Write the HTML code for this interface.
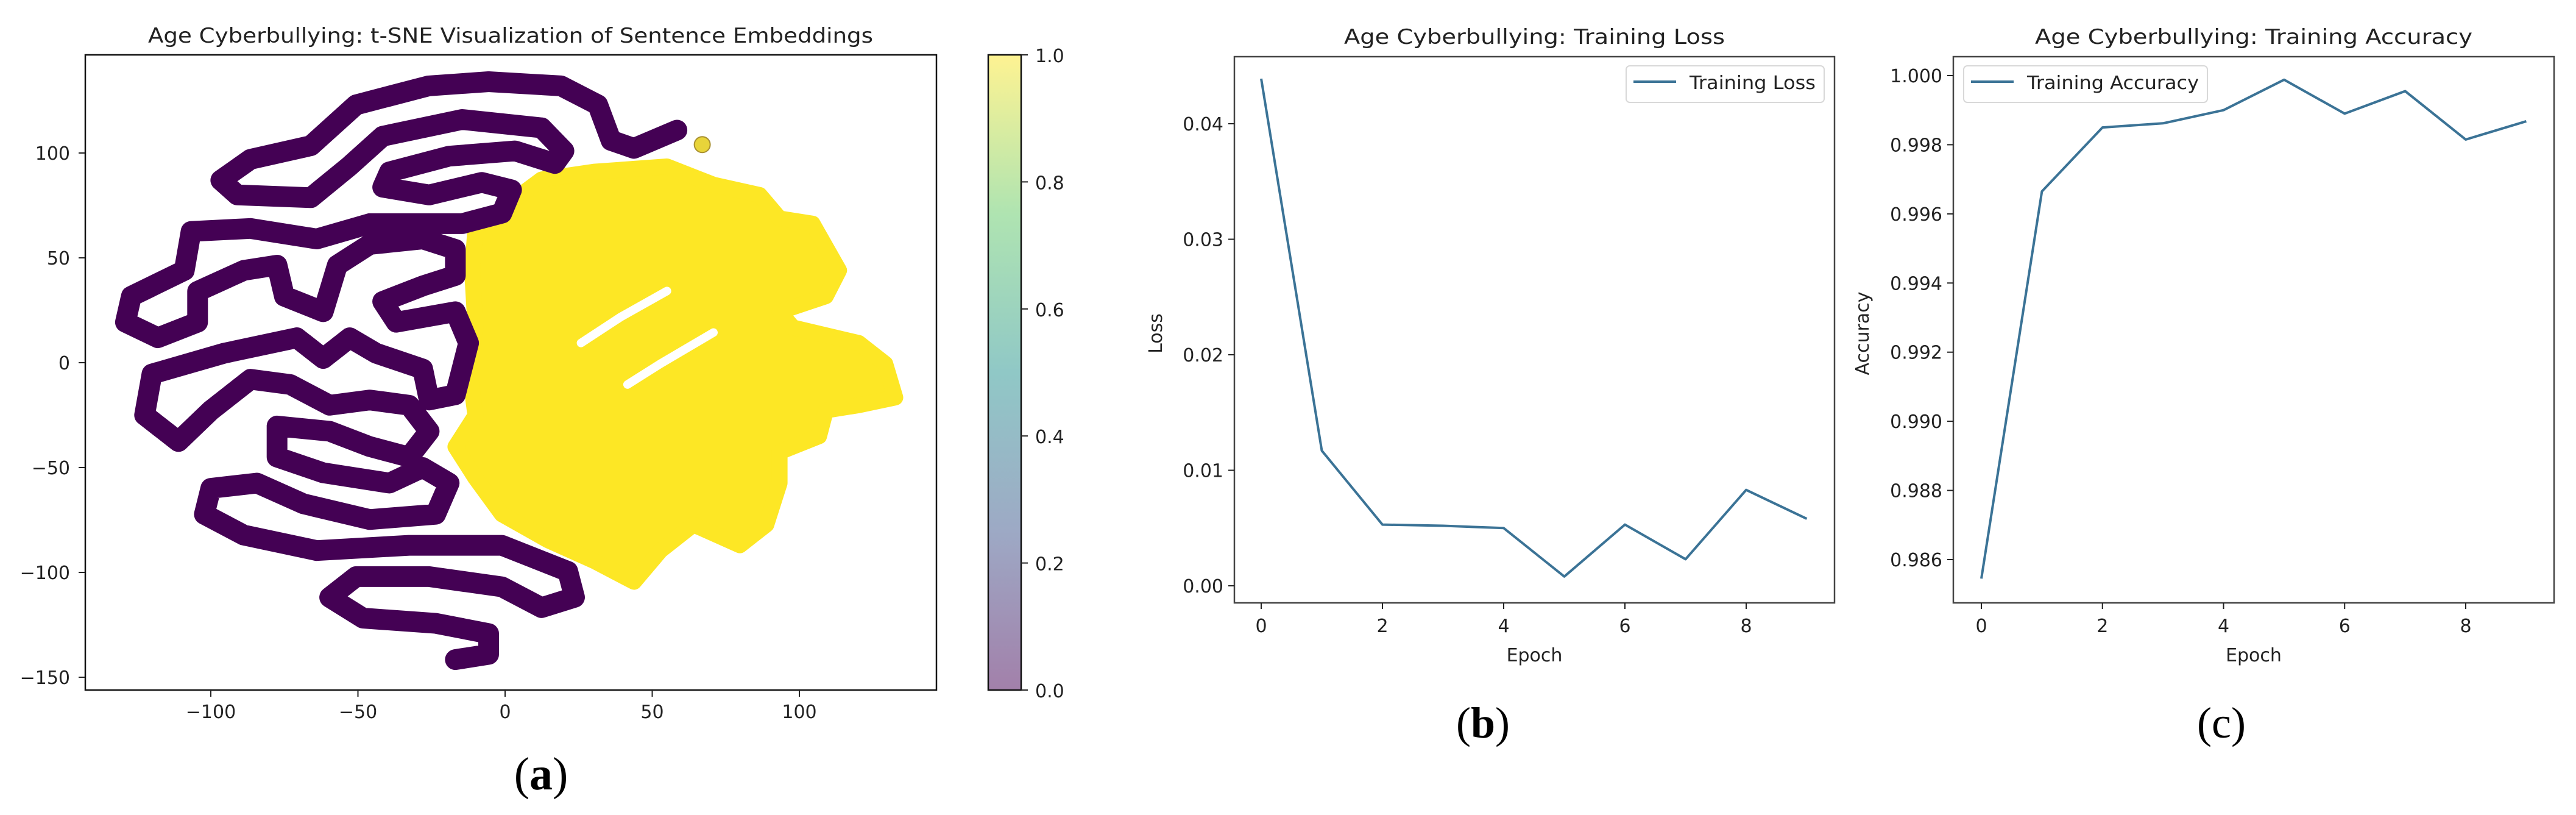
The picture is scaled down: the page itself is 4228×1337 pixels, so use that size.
<!DOCTYPE html>
<html><head><meta charset="utf-8"><style>
html,body{margin:0;padding:0;background:#fff;}
svg{display:block;}
text{font-family:"DejaVu Sans","Liberation Sans",sans-serif;fill:#222;}
text.cap{font-family:"Liberation Serif",serif;fill:#000;}
</style></head><body>
<svg id="fig" width="4228" height="1337" viewBox="0 0 4228 1337" xmlns="http://www.w3.org/2000/svg">
<defs>
<linearGradient id="vir" x1="0" y1="1" x2="0" y2="0">
<stop offset="0" stop-color="#a280aa"/><stop offset="0.25" stop-color="#9da9c5"/>
<stop offset="0.5" stop-color="#90c8c6"/><stop offset="0.75" stop-color="#afe4b1"/>
<stop offset="1" stop-color="#fef392"/></linearGradient>
</defs>
<g id="pa"></g>
<g id="pb"></g>
<g id="pc"></g>
</svg>
<script>
// ---- t-SNE data (data coordinates) ----
const snakeX=[58.4,43.8,36,31.5,19,-5.6,-26,-50.6,-66,-86.5,-96.6,-91,-66,-53,-41.6,-14.6,12.4,20,16.9,3.4,-19,-39.3,-41.6,-25.8,-7.9,2.2,-1.1,-14.6,-46,-64,-86.5,-106.7,-109,-127,-129,-118,-104.5,-104.5,-88.8,-77.5,-75,-61.8,-57,-46,-28,-16.9,-16.9,-28,-41.6,-37,-16.9,-12.4,-16.9,-25.8,-28,-43.8,-52.8,-61.8,-70.8,-95.5,-120,-122.5,-111,-100,-86.5,-73,-59.6,-46,-32.6,-25.8,-32.6,-46,-59.6,-77.5,-77.5,-61.8,-39.3,-28,-19,-23.6,-46,-68.5,-84.3,-100,-102.2,-88.8,-64,-32.6,-1.1,21.3,23.6,12.4,-1.1,-25.8,-50.6,-59.6,-48.3,-23.6,-5.6,-5.6,-16.9];
const snakeY=[110.9,102.2,106,123,132,134,132,123,103.5,97,87,80,78.7,93.6,108,116,112,101,95,101,98.5,91,83.7,80,86,82.4,71.3,66.3,66.3,59,64,62.6,44,31.7,19.3,11.9,19.3,34,44,46.5,31.7,24.3,46.5,56.4,59,54,41.6,36.6,29.2,19.3,24.3,9.4,-15.3,-17.8,-3,4.5,11.9,2,11.9,4.5,-5.4,-25,-37.6,-22.8,-7.9,-10.4,-20.3,-17.8,-20.3,-32.7,-45,-40,-32.7,-30.2,-45,-52.5,-57.4,-50,-57.4,-72.3,-74.8,-67.3,-57.4,-59.9,-72.3,-82.2,-89.6,-87.1,-87.1,-99.5,-111.9,-116.8,-106.9,-102,-102,-111.9,-121.8,-124.3,-129.2,-139.1,-141.6];
const blobX=[-10.1,12.4,30.3,55,70.8,86.5,93.3,104.5,113.5,109,93.3,97.8,120.2,129.2,132.6,120.2,109,106.7,93.3,93.3,88.8,79.8,64,52.8,43.8,30.3,14.6,-1.1,-10.1,-16.9,-10.1,-12.4,-10.1,-11.2];
const blobY=[63.9,87.4,91.1,93.6,84.9,80,68.8,66.3,44,31.7,24.3,16.8,9.4,-0.5,-16.6,-20.3,-22.8,-35.1,-42.6,-57.4,-77.2,-87.1,-77.2,-89.6,-104.5,-94.6,-84.7,-72.3,-55,-40.1,-25.2,-0.5,16.8,44];
const gap1X=[55,39.3,25.8], gap1Y=[34.2,21.8,9.4];
const gap2X=[70.8,52.8,41.6], gap2Y=[14.4,-0.5,-10.4];
const tsneXTicks=[-100,-50,0,50,100];
const tsneYTicks=[-150,-100,-50,0,50,100];
const cbTicks=[0.0,0.2,0.4,0.6,0.8,1.0];
// ---- training curves ----
const epochs=[0,1,2,3,4,5,6,7,8,9];
const lossVals=[0.0439,0.0117,0.0053,0.0052,0.0050,0.0008,0.0053,0.0023,0.0083,0.0058];
const accVals=[0.98545,0.99665,0.9985,0.99862,0.9990,0.99988,0.9989,0.99955,0.99815,0.99868];
const epochTicks=[0,2,4,6,8];
const lossTicks=[0.00,0.01,0.02,0.03,0.04];
const accTicks=[0.986,0.988,0.990,0.992,0.994,0.996,0.998,1.000];

const NS="http://www.w3.org/2000/svg";
function mk(parent,tag,attrs,txt){const e=document.createElementNS(NS,tag);for(const k in attrs)e.setAttribute(k,attrs[k]);if(txt!==undefined)e.textContent=txt;parent.appendChild(e);return e;}
function lin(d0,d1,r0,r1){return v=>r0+(v-d0)*(r1-r0)/(d1-d0);}

// ---- Panel A ----
const pa=document.getElementById('pa');
const ax=lin(0,100,829,1312), ay=lin(0,100,595,251);
let t=mk(pa,'text',{x:838,y:70,'text-anchor':'middle','font-size':34,textLength:1190,lengthAdjust:'spacingAndGlyphs'},'Age Cyberbullying: t-SNE Visualization of Sentence Embeddings');


function pts(xs,ys,fx,fy){return xs.map((x,i)=>fx(x).toFixed(1)+','+fy(ys[i]).toFixed(1)).join(' ');}
let bl=mk(pa,'polygon',{points:pts(blobX,blobY,ax,ay),fill:'#fde725',stroke:'#fde725','stroke-width':26,'stroke-linejoin':'round'});


[[gap1X,gap1Y],[gap2X,gap2Y]].forEach(g=>{const p=mk(pa,'polyline',{points:pts(g[0],g[1],ax,ay),fill:'none',stroke:'#fff','stroke-width':14,'stroke-linecap':'round','stroke-linejoin':'round'});

});
let dot=mk(pa,'circle',{cx:ax(67),cy:ay(104),r:13,fill:'#e8d43a',stroke:'#a89030','stroke-width':2});


let sn=mk(pa,'polyline',{points:pts(snakeX,snakeY,ax,ay),fill:'none',stroke:'#440154','stroke-width':34,'stroke-linecap':'round','stroke-linejoin':'round'});


let fr=mk(pa,'rect',{x:140,y:90,width:1397,height:1042,fill:'none',stroke:'#111','stroke-width':2.5});


tsneXTicks.forEach(v=>{const x=ax(v);mk(pa,'line',{x1:x,y1:1132,x2:x,y2:1143,stroke:'#222','stroke-width':2});
const l=mk(pa,'text',{x:x,y:1178,'text-anchor':'middle','font-size':30},v<0?'\u2212'+(-v):String(v));

});
tsneYTicks.forEach(v=>{const y=ay(v);mk(pa,'line',{x1:129,y1:y,x2:140,y2:y,stroke:'#222','stroke-width':2});
const l=mk(pa,'text',{x:115,y:y+11,'text-anchor':'end','font-size':30},v<0?'\u2212'+(-v):String(v));

});
let cb=mk(pa,'rect',{x:1622,y:90,width:54,height:1042,fill:'url(#vir)',stroke:'#111','stroke-width':2.5});


const cy=lin(0,1,1132,90);
cbTicks.forEach(v=>{const y=cy(v);mk(pa,'line',{x1:1676,y1:y,x2:1687,y2:y,stroke:'#222','stroke-width':2});
const l=mk(pa,'text',{x:1699,y:y+12,'font-size':30},v.toFixed(1));

});
let ca=mk(pa,'text',{x:888,y:1295,'text-anchor':'middle','font-size':76,'class':'cap'});
ca.innerHTML='(<tspan font-weight="bold">a</tspan>)';



// ---- line panels ----
function linePanel(g,o){
  const fx=lin(0,8,o.x0,o.x8), fy=lin(o.yv0,o.yv1,o.yp0,o.yp1);
  let t=mk(g,'text',{x:(o.L+o.R)/2,y:72,'text-anchor':'middle','font-size':34,textLength:o.tl,lengthAdjust:'spacingAndGlyphs'},o.title);
  
  
  let f=mk(g,'rect',{x:o.L,y:93,width:o.R-o.L,height:896,fill:'none',stroke:'#444','stroke-width':2.5});
  
  
  epochTicks.forEach(v=>{const x=fx(v);mk(g,'line',{x1:x,y1:989,x2:x,y2:999,stroke:'#222','stroke-width':2});
  const l=mk(g,'text',{x:x,y:1037,'text-anchor':'middle','font-size':30},String(v));
  
  });
  o.ticks.forEach(v=>{const y=fy(v);mk(g,'line',{x1:o.L-10,y1:y,x2:o.L,y2:y,stroke:'#222','stroke-width':2});
  const l=mk(g,'text',{x:o.L-18,y:y+11,'text-anchor':'end','font-size':30},v.toFixed(o.dp));
  
  });
  let xl=mk(g,'text',{x:(o.L+o.R)/2,y:1085,'text-anchor':'middle','font-size':30},'Epoch');
  
  
  let yl=mk(g,'text',{x:o.ylx,y:547,'text-anchor':'middle','font-size':30,transform:`rotate(-90 ${o.ylx} 547)`},o.ylab);
  
  
  let p=mk(g,'polyline',{points:epochs.map((e,i)=>fx(e).toFixed(1)+','+fy(o.vals[i]).toFixed(1)).join(' '),fill:'none',stroke:'#3b7396','stroke-width':4,'stroke-linejoin':'round'});
  
  
  let lg=mk(g,'g',{});
  
  
  mk(lg,'rect',{x:o.lgx,y:108,width:o.lgw,height:60,rx:6,fill:'#fff',stroke:'#d8d8d8','stroke-width':2});
  mk(lg,'line',{x1:o.lgx+12,y1:134,x2:o.lgx+82,y2:134,stroke:'#3b7396','stroke-width':4});
  mk(lg,'text',{x:o.lgx+104,y:146,'font-size':30,textLength:o.lgw-118,lengthAdjust:'spacingAndGlyphs'},o.leg);
  let c=mk(g,'text',{x:o.cx,y:1210,'text-anchor':'middle','font-size':72,'class':'cap'});
  c.innerHTML=o.cap;
  
  
}
linePanel(document.getElementById('pb'),{id:'loss',L:2026,R:3011,x0:2070,x8:2866,yv0:0,yv1:0.04,yp0:961,yp1:203,ticks:lossTicks,dp:2,vals:lossVals,title:'Age Cyberbullying: Training Loss',tl:625,ylab:'Loss',ylx:1907,lgx:2669,lgw:325,leg:'Training Loss',cx:2434,cap:'(<tspan font-weight="bold">b</tspan>)'});
linePanel(document.getElementById('pc'),{id:'accuracy',L:3206,R:4192,x0:3252,x8:4047,yv0:0.986,yv1:1.0,yp0:918,yp1:124,ticks:accTicks,dp:3,vals:accVals,title:'Age Cyberbullying: Training Accuracy',tl:718,ylab:'Accuracy',ylx:3067,lgx:3223,lgw:400,leg:'Training Accuracy',cx:3646,cap:'(c)'});
</script>
</body></html>
